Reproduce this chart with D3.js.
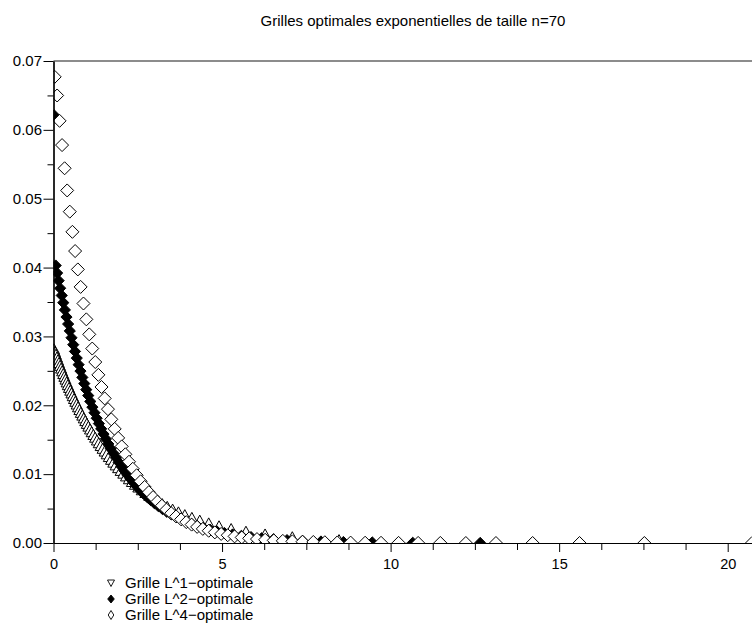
<!DOCTYPE html>
<html><head><meta charset="utf-8">
<script src="https://cdn.jsdelivr.net/npm/d3@7"></script>
<style>body{margin:0;background:#fff} svg{display:block} text{font-family:"Liberation Sans",Arial,Helvetica,sans-serif;fill:#000}</style>
</head><body><svg id="c" width="752" height="624"></svg>
<script>
const title = "Grilles optimales exponentielles de taille n=70";
const legendLabels = ["Grille L^1\u2212optimale", "Grille L^2\u2212optimale", "Grille L^4\u2212optimale"];

const xL1 = [0.0141,0.0429,0.0721,0.1017,0.1317,0.1621,0.1931,0.2245,0.2567,0.2891,
0.3223,0.3559,0.3899,0.4247,0.4601,0.4961,0.5327,0.5701,0.6081,0.6469,
0.6865,0.7269,0.7681,0.8101,0.8531,0.8971,0.9419,0.9879,1.0349,1.0829,
1.1321,1.1827,1.2347,1.2879,1.3425,1.3987,1.4567,1.5163,1.5777,1.6411,
1.7065,1.7743,1.8443,1.9167,1.9921,2.0703,2.1517,2.2367,2.3255,2.4181,
2.5155,2.6177,2.7255,2.8395,2.9603,3.0889,3.2261,3.3739,3.5331,3.7063,
3.8957,4.1051,4.3391,4.6041,4.910,5.270,5.709,6.276,7.084,8.470];
const yL1 = [0.02814,0.02774,0.02734,0.02694,0.02654,0.02614,0.02573,0.02533,0.02493,0.02453,
0.02413,0.02373,0.02332,0.02292,0.02252,0.02212,0.02172,0.02132,0.02091,0.02051,
0.02011,0.01971,0.01931,0.01890,0.01850,0.01810,0.01770,0.01730,0.01690,0.01649,
0.01609,0.01569,0.01529,0.01489,0.01449,0.01408,0.01368,0.01328,0.01288,0.01248,
0.01208,0.01167,0.01127,0.01087,0.01047,0.01007,0.00967,0.00926,0.00886,0.00846,
0.00806,0.00766,0.00726,0.00685,0.00645,0.00605,0.00565,0.00525,0.00485,0.00445,
0.00405,0.00365,0.00325,0.00285,0.00243,0.00203,0.00164,0.00124,0.00084,0.00042];

const xL2 = [0.0213,0.0645,0.1083,0.1527,0.1977,0.2436,0.2901,0.3375,0.3855,0.4341,
0.4839,0.5343,0.5856,0.6375,0.6906,0.7449,0.7998,0.8559,0.9132,0.9714,
1.0308,1.0914,1.1532,1.2165,1.2810,1.3467,1.4142,1.4832,1.5537,1.6260,
1.7001,1.7760,1.8540,1.9341,2.0163,2.1009,2.1876,2.2773,2.3697,2.4648,
2.5632,2.6649,2.7702,2.8794,2.9925,3.1101,3.2325,3.3603,3.4938,3.6333,
3.7797,3.9336,4.0956,4.2672,4.4490,4.6425,4.8495,5.0721,5.3121,5.5731,
5.8590,6.1752,6.527,6.927,7.388,7.934,8.600,9.457,10.657,12.657];
const yL2 = [0.0621,0.04030,0.03920,0.03810,0.03700,0.03595,0.03490,0.03385,0.03282,0.03180,
0.03080,0.02981,0.02880,0.02782,0.02685,0.02590,0.02497,0.02405,0.02315,0.02227,
0.02141,0.02056,0.01973,0.01892,0.01812,0.01734,0.01658,0.01583,0.01511,0.01439,
0.01370,0.01303,0.01237,0.01172,0.01110,0.01049,0.00990,0.00933,0.00877,0.00823,
0.00771,0.00720,0.00671,0.00624,0.00579,0.00535,0.00493,0.00453,0.00415,0.00378,
0.00343,0.00309,0.00278,0.00248,0.00219,0.00193,0.00168,0.00145,0.00124,0.00104,
0.00086,0.00070,0.00055,0.00042,0.00031,0.00022,0.00014,0.00008,0.00003,0.00001];

const xL4 = [0.0354,0.1072,0.1801,0.2541,0.3291,0.4053,0.4827,0.5613,0.6412,0.7223,
0.8048,0.8887,0.9740,1.0608,1.1491,1.2390,1.3305,1.4238,1.5188,1.6157,
1.7145,1.8152,1.9181,2.0231,2.1304,2.2400,2.3520,2.4667,2.5840,2.7041,
2.8272,2.9535,3.0830,3.2159,3.3524,3.4928,3.6373,3.7860,3.9393,4.0975,
4.2609,4.4297,4.6045,4.7856,4.9735,5.1687,5.3718,5.5836,5.8047,6.0361,
6.2786,6.5336,6.8023,7.0862,7.3873,7.7076,8.0498,8.4172,8.8138,9.2445,
9.7159,10.2364,10.8174,11.4750,12.2323,13.1251,14.2129,15.6048,17.528,20.72];
const yL4 = [0.0677,0.06499,0.06131,0.05779,0.05442,0.05120,0.04812,0.04519,0.04240,0.03973,
0.03719,0.03478,0.03248,0.03030,0.02824,0.02628,0.02442,0.02266,0.02100,0.01944,
0.01796,0.01657,0.01526,0.01403,0.01288,0.01180,0.01078,0.00984,0.00896,0.00814,
0.00738,0.00667,0.00601,0.00541,0.00485,0.00433,0.00386,0.00343,0.00303,0.00267,
0.00234,0.00205,0.00178,0.00154,0.00132,0.00113,0.00096,0.00081,0.00068,0.00057,
0.00047,0.00038,0.00031,0.00024,0.00019,0.00015,0.00011,0.00008,0.00006,0.00004,
0.00003,0.00002,0.00001,0.00001,0,0,0,0,0,0];

const xMajorTicks = [0,5,10,15,20];
const xMinorTicks = [1.25,2.5,3.75,6.25,7.5,8.75,11.25,12.5,13.75,16.25,17.5,18.75,21.25];
const yMajorTicks = [0,0.01,0.02,0.03,0.04,0.05,0.06,0.07];
const yMinorTicks = [0.005,0.015,0.025,0.035,0.045,0.055,0.065];

const W = 752, H = 624;
const svg = d3.select("#c");
const x = d3.scaleLinear().domain([0, 21.5]).range([53.5, 53.5 + 21.5 * 33.71]);
const y = d3.scaleLinear().domain([0, 0.07]).range([543, 61]);

svg.append("text").attr("x", 413).attr("y", 26).attr("text-anchor", "middle")
  .style("font-size", "15px").text(title);

svg.append("line").attr("x1", x(0)).attr("x2", W + 40).attr("y1", y(0.07)).attr("y2", y(0.07))
  .attr("stroke", "#666").attr("stroke-width", 1.6);

svg.append("clipPath").attr("id", "plotclip").append("rect")
  .attr("x", x(0)).attr("y", y(0.07)).attr("width", W + 40 - x(0)).attr("height", y(0) - y(0.07));

const plot = svg.append("g").attr("clip-path", "url(#plotclip)");

const tri = "M0,-5.5L5.5,4.5L-5.5,4.5Z";
const dia = r => `M0,${-r}L${r},0L0,${r}L${-r},0Z`;

function drawSeries(xs, ys, path, fill) {
  plot.append("g").selectAll("path").data(xs.map((v, i) => [v, ys[i]])).join("path")
    .attr("d", path)
    .attr("transform", d => `translate(${x(d[0])},${y(d[1])})`)
    .attr("fill", fill).attr("stroke", "#000").attr("stroke-width", 1);
}
drawSeries(xL1, yL1, tri, "#fff");
drawSeries(xL2, yL2, dia(5.6), "#000");
drawSeries(xL4, yL4, dia(6.5), "#fff");

const gx = svg.append("g").attr("transform", `translate(0,${y(0)})`);
gx.call(d3.axisBottom(x).tickValues(xMinorTicks).tickSize(7).tickSizeOuter(0).tickFormat(""));
const gx2 = svg.append("g").attr("transform", `translate(0,${y(0)})`);
gx2.call(d3.axisBottom(x).tickValues(xMajorTicks).tickSize(9).tickSizeOuter(0).tickPadding(7).tickFormat(d3.format("d")));
gx2.selectAll("text").style("font-size", "14.5px").attr("fill", "#000");

const gy = svg.append("g").attr("transform", `translate(${x(0)},0)`);
gy.call(d3.axisLeft(y).tickValues(yMinorTicks).tickSize(6).tickSizeOuter(0).tickFormat(""));
const gy2 = svg.append("g").attr("transform", `translate(${x(0)},0)`);
gy2.call(d3.axisLeft(y).tickValues(yMajorTicks).tickSize(10).tickSizeOuter(0).tickPadding(1.5).tickFormat(d3.format(".2f")));
gy2.selectAll("text").style("font-size", "15px").attr("fill", "#000");
svg.selectAll(".domain").attr("stroke", "#000").attr("stroke-width", 1.2);
svg.selectAll(".tick line").attr("stroke", "#000");

const legMarks = ["M-3.5,-3L3.5,-3L0,3.5Z", "M0,-4L3.3,0L0,4L-3.3,0Z", "M0,-4.5L2.8,0L0,4.5L-2.8,0Z"];
const legFill = ["#fff", "#000", "#fff"];
const leg = svg.append("g");
legendLabels.forEach((t, i) => {
  const yy = 588 + i * 16;
  leg.append("path").attr("d", legMarks[i]).attr("transform", `translate(111,${yy - 5})`)
    .attr("fill", legFill[i]).attr("stroke", "#000").attr("stroke-width", 0.9);
  leg.append("text").attr("x", 125).attr("y", yy).style("font-size", "15px").text(t);
});
</script></body></html>
